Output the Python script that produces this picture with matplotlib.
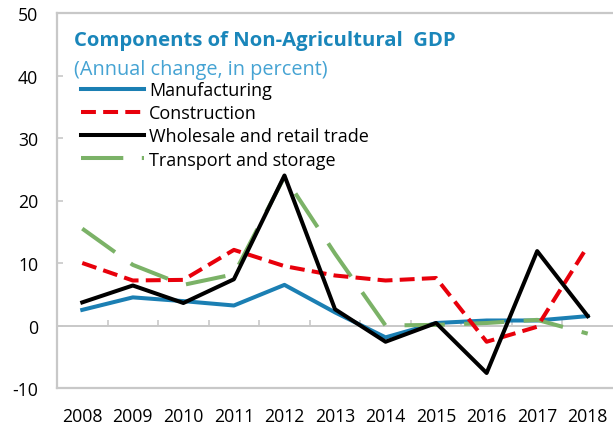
import matplotlib
matplotlib.use("Agg")
import matplotlib.pyplot as plt
from matplotlib.lines import Line2D

plt.rcParams['font.family'] = ['Open Sans', 'DejaVu Sans']

years = ["2008", "2009", "2010", "2011", "2012", "2013", "2014", "2015", "2016", "2017", "2018"]
manufacturing = [2.5, 4.5, 3.9, 3.2, 6.5, 2.1, -1.9, 0.4, 0.8, 0.8, 1.5]
construction = [10.0, 7.2, 7.3, 12.1, 9.5, 8.0, 7.2, 7.6, -2.6, -0.2, 12.7]
wholesale = [3.7, 6.4, 3.6, 7.4, 24.0, 2.6, -2.6, 0.4, -7.6, 11.9, 1.5]
transport = [15.5, 9.7, 6.5, 8.2, 23.8, 11.5, 0.0, 0.1, 0.4, 0.9, -1.3]
yticks = [-10, 0, 10, 20, 30, 40, 50]

title = "Components of Non-Agricultural  GDP"
subtitle = "(Annual change, in percent)"
labels = ["Manufacturing", "Construction", "Wholesale and retail trade", "Transport and storage"]

c_blue = "#1b7fb3"
c_red = "#e8000b"
c_black = "#000000"
c_green = "#7bb267"
c_grey = "#c8c8c8"

fig = plt.figure(figsize=(6.13, 4.31), dpi=100)
ax = fig.add_axes([57 / 613, 42 / 431, 556 / 613, 375 / 431])

x = list(range(len(years)))
lw = 2.9
red_dash = (3.7, 1.8)
ax.plot(x, manufacturing, color=c_blue, lw=lw, zorder=3)
ax.plot(x, transport, color=c_green, lw=lw, dashes=(10, 4.8), zorder=4)
ax.plot(x, construction, color=c_red, lw=lw, dashes=red_dash, zorder=5)
ax.plot(x, wholesale, color=c_black, lw=lw, zorder=6)

ax.set_xlim(-0.5, len(years) - 0.5)
ax.set_ylim(-10, 50)
ax.set_yticks(yticks)
ax.set_yticklabels([str(v) for v in yticks])
ax.set_xticks(x)
ax.set_xticklabels(years)

ax.tick_params(axis='x', length=0, pad=14, labelsize=12.7, colors='#000000')
ax.tick_params(axis='y', direction='in', length=4.5, width=1.2, color=c_grey, pad=13.5,
               labelsize=12.7, labelcolor='#000000')
for side in ['left', 'top', 'bottom']:
    ax.spines[side].set_color(c_grey)
    ax.spines[side].set_linewidth(1.6)
ax.spines['right'].set_visible(False)

# zero axis line with category-boundary ticks
sec = ax.secondary_xaxis(10 / 60)
sec.set_xticks([i + 0.5 for i in x[:-1]])
sec.tick_params(axis='x', direction='in', length=4, width=1.2, color=c_grey, labelbottom=False,
                labeltop=False)
sec.spines['bottom'].set_color(c_grey)
sec.spines['bottom'].set_linewidth(1.4)
sec.spines['bottom'].set_zorder(1)

ax.text(17 / 556, (389 - 46) / 375, title, transform=ax.transAxes, fontsize=14.6,
        fontweight='bold', color="#1a86ba", ha='left', va='baseline')
ax.text(17 / 556, (389 - 75) / 375, subtitle, transform=ax.transAxes, fontsize=14.3,
        color="#45a3d3", ha='left', va='baseline')

handles = [
    Line2D([], [], color=c_blue, lw=lw),
    Line2D([], [], color=c_red, lw=lw, dashes=red_dash),
    Line2D([], [], color=c_black, lw=lw),
    Line2D([], [], color=c_green, lw=lw, dashes=(10.5, 4.6, 0.6, 2)),
]
ax.legend(handles, labels, loc='upper left', bbox_to_anchor=(24 / 556, (389 - 82) / 375),
          frameon=False, fontsize=13, borderpad=0, borderaxespad=0, handlelength=3.5,
          handletextpad=0.28, labelspacing=0.29)

fig.savefig("out.png", dpi=100)
